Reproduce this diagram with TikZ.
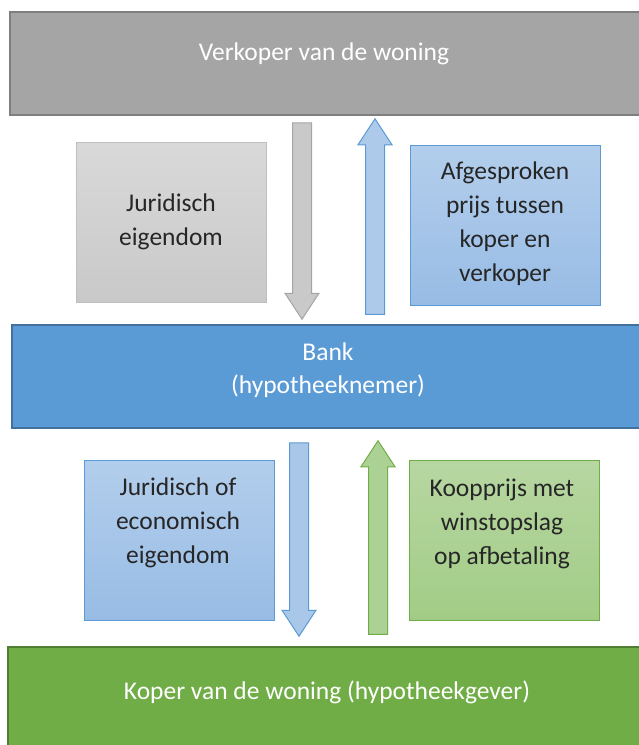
\documentclass[tikz,border=0pt]{standalone}
\usepackage{fontspec}
\setmainfont{Carlito}
\usetikzlibrary{calc}
\definecolor{SellerFill}{HTML}{A5A5A5}
\definecolor{SellerLine}{HTML}{7F7F7F}
\definecolor{GreyTop}{HTML}{D9D9D9}
\definecolor{GreyBottom}{HTML}{C9C9C9}
\definecolor{GreyLine}{HTML}{BFBFBF}
\definecolor{BlueTop}{HTML}{B3CEEC}
\definecolor{BlueBottom}{HTML}{98BCE5}
\definecolor{BlueLine}{HTML}{5B9BD5}
\definecolor{BankFill}{HTML}{5B9BD5}
\definecolor{BankLine}{HTML}{41719C}
\definecolor{GreenTop}{HTML}{B7D7A2}
\definecolor{GreenBottom}{HTML}{A2CC86}
\definecolor{GreenLine}{HTML}{70AD47}
\definecolor{BuyerFill}{HTML}{70AD47}
\definecolor{BuyerLine}{HTML}{507E32}
\definecolor{TextDark}{HTML}{262626}
% block arrow: #1 style, #2 tail, #3 tip
\newcommand\blockarrow[3]{%
  \draw[#1] ($(#2)+(-9.5,0)$) -- ($(#3)!26pt!(#2)+(-9.5,0)$)
    -- ($(#3)!26pt!(#2)+(-17,0)$) -- (#3)
    -- ($(#3)!26pt!(#2)+(17,0)$) -- ($(#3)!26pt!(#2)+(9.5,0)$)
    -- ($(#2)+(9.5,0)$) -- cycle;}

\begin{document}
\begin{tikzpicture}[x=1pt,y=-1pt,
  bigbox/.style={draw, line width=1.5pt, minimum width=632pt, minimum height=103pt, inner sep=0pt},
  infobox/.style={draw, line width=1pt, minimum width=190pt, minimum height=160pt, inner sep=0pt},
  lighttext/.style={text=white, align=center, font=\fontsize{25.5}{33}\selectfont},
  darktext/.style={text=TextDark, align=center, font=\fontsize{25.5}{34}\selectfont},
  ]
  \useasboundingbox (0,0) rectangle (638,745);

  % parties
  \node[bigbox, fill=SellerFill, draw=SellerLine] (seller) at (326,63.5) {};
  \node[bigbox, fill=BankFill, draw=BankLine] (bank) at (328,376.5) {};
  \node[bigbox, fill=BuyerFill, draw=BuyerLine, minimum height=110pt] (buyer) at (324,702) {};
  \node[lighttext] (sellertext) at (324,54) {Verkoper van de woning};
  \node[lighttext] (banktext) at (328,370.5) {Bank\\(hypotheeknemer)};
  \node[lighttext] (buyertext) at (327,692) {Koper van de woning (hypotheekgever)};

  % what is exchanged
  \node[infobox, top color=GreyTop, bottom color=GreyBottom, draw=GreyLine] (legalA) at (171,222) {};
  \node[infobox, top color=BlueTop, bottom color=BlueBottom, draw=BlueLine] (priceA) at (505,225) {};
  \node[infobox, top color=BlueTop, bottom color=BlueBottom, draw=BlueLine] (legalB) at (179,540) {};
  \node[infobox, top color=GreenTop, bottom color=GreenBottom, draw=GreenLine] (priceB) at (504,540) {};
  \node[darktext] (legalAtext) at (171,222) {Juridisch\\eigendom};
  \node[darktext] (priceAtext) at (505,223.5) {Afgesproken\\prijs tussen\\koper en\\verkoper};
  \node[darktext] (legalBtext) at (178,523) {Juridisch of\\economisch\\eigendom};
  \node[darktext] (priceBtext) at (502,523.5) {Koopprijs met\\winstopslag\\op afbetaling};

  % flows
  \coordinate (downA-s) at ([yshift=-7pt]seller.south -| 302,0);
  \coordinate (downA-e) at ([yshift=5pt]bank.north -| 302,0);
  \coordinate (upA-s) at ([yshift=10pt]bank.north -| 375,0);
  \coordinate (upA-e) at ([yshift=-3pt]seller.south -| 375,0);
  \coordinate (downB-s) at ([yshift=-14pt]bank.south -| 299,0);
  \coordinate (downB-e) at ([yshift=10pt]buyer.north -| 299,0);
  \coordinate (upB-s) at ([yshift=12pt]buyer.north -| 378,0);
  \coordinate (upB-e) at ([yshift=-12pt]bank.south -| 378,0);
  \blockarrow{fill=GreyBottom, draw=SellerFill, line width=1pt}{downA-s}{downA-e}
  \blockarrow{fill=BlueTop!80!BlueBottom, draw=BlueLine, line width=1pt}{upA-s}{upA-e}
  \blockarrow{fill=BlueTop!60!BlueBottom, draw=BlueLine, line width=1pt}{downB-s}{downB-e}
  \blockarrow{fill=GreenTop!50!GreenBottom, draw=GreenLine, line width=1pt}{upB-s}{upB-e}
\end{tikzpicture}
\end{document}
